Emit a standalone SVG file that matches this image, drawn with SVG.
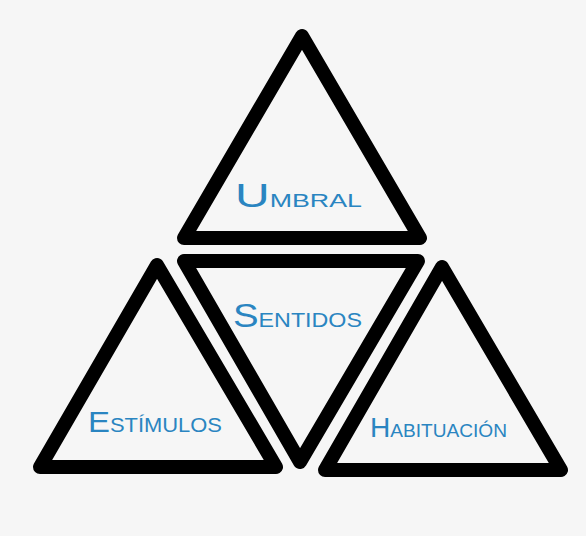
<svg xmlns="http://www.w3.org/2000/svg" width="586" height="536" viewBox="0 0 586 536">
<style>
.tri{fill:none;stroke:#000;stroke-width:14;stroke-linejoin:round}
.lbl{font-family:"Liberation Sans","DejaVu Sans",sans-serif;fill:#2a85c1}
</style>
<defs>
<filter id="paper" x="0" y="0" width="100%" height="100%">
<feTurbulence type="fractalNoise" baseFrequency="0.08" numOctaves="3" seed="4" result="n"/>
<feColorMatrix in="n" type="matrix" values="0 0 0 0 0.93  0 0 0 0 0.93  0 0 0 0 0.93  0 0 0 -0.9 0.55" result="c"/>
<feComposite in="c" in2="SourceGraphic" operator="over"/>
</filter>
</defs>
<rect width="586" height="536" fill="#f6f6f6" filter="url(#paper)"/>
<g id="umbral">
<path class="tri" d="M302,36 L420,238 L184,238 Z"/>
<text class="lbl" x="235" y="207" textLength="127" lengthAdjust="spacingAndGlyphs"><tspan font-size="34">U</tspan><tspan font-size="19">MBRAL</tspan></text>
</g>
<g id="sentidos">
<path class="tri" d="M184,261 L418,261 L300,462 Z"/>
<text class="lbl" x="233" y="327" textLength="129" lengthAdjust="spacingAndGlyphs"><tspan font-size="33">S</tspan><tspan font-size="20">ENTIDOS</tspan></text>
</g>
<g id="estimulos">
<path class="tri" d="M157,265 L276,467 L40,467 Z"/>
<text class="lbl" x="88" y="432" textLength="134" lengthAdjust="spacingAndGlyphs"><tspan font-size="30">E</tspan><tspan font-size="20">STÍMULOS</tspan></text>
</g>
<g id="habituacion">
<path class="tri" d="M442,267 L561,470 L325,470 Z"/>
<text class="lbl" x="370" y="437" textLength="137" lengthAdjust="spacingAndGlyphs"><tspan font-size="28">H</tspan><tspan font-size="19">ABITUACIÓN</tspan></text>
</g>
<g id="connectors"></g>
</svg>
